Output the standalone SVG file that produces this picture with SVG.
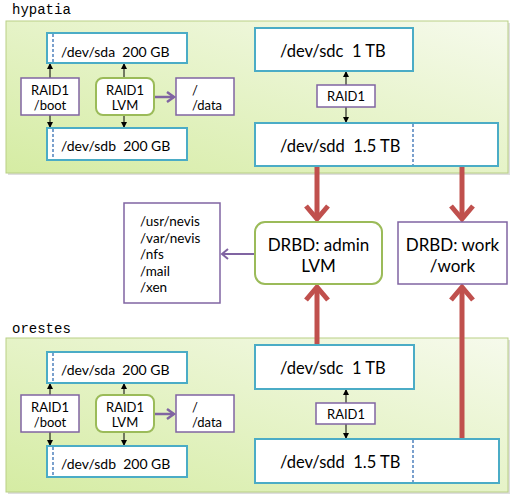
<svg xmlns="http://www.w3.org/2000/svg" width="514" height="501" viewBox="0 0 514 501">
<defs>
<linearGradient id="pg" x1="1" y1="0" x2="0" y2="1">
<stop offset="0" stop-color="#f6faec"/>
<stop offset="1" stop-color="#d5eca3"/>
</linearGradient>
<marker id="sm" markerWidth="6" markerHeight="6" refX="5" refY="3" orient="auto" markerUnits="userSpaceOnUse">
<path d="M0,0 L6,3 L0,6 z" fill="#000"/>
</marker>
<style>
.panel{fill:url(#pg);stroke:#b9cf86;stroke-width:1}
.shadow{fill:#bdbdbd;opacity:0.5}
.disk{fill:#fff;stroke:#4bacc6;stroke-width:2}
.dash{stroke:#4f81bd;stroke-width:1.5;stroke-dasharray:3,2;fill:none}
.pbox{fill:#fff;stroke:#8064a2;stroke-width:1.5}
.gbox{fill:#fff;stroke:#9bbb59;stroke-width:2}
.host{font-family:"Liberation Mono",monospace;font-size:14px;fill:#000}
.dt{font-family:Lato,"Liberation Sans",sans-serif;font-size:14px;fill:#000}
.dl{font-family:Lato,"Liberation Sans",sans-serif;font-size:16.5px;fill:#000}
.st{font-family:Lato,"Liberation Sans",sans-serif;font-size:13px;fill:#000}
.bt{font-family:Lato,"Liberation Sans",sans-serif;font-size:17px;fill:#000}
.lt{font-family:Lato,"Liberation Sans",sans-serif;font-size:13.5px;fill:#000}
.thin{stroke:#000;stroke-width:1;fill:none;marker-end:url(#sm)}
.red{stroke:#c0504d;stroke-width:5;fill:none}
.redh{stroke:#c0504d;stroke-width:5;fill:none;stroke-linejoin:miter;stroke-linecap:butt}
.pur{stroke:#8064a2;stroke-width:2.5;fill:none}
.c{text-anchor:middle}
</style>
</defs>
<rect width="514" height="501" fill="#fff"/>

<!-- panels -->
<g id="hypatia">
<text class="host" x="12" y="14">hypatia</text>
<rect class="shadow" x="8" y="23" width="502" height="152"/>
<rect class="panel" x="6" y="21" width="502" height="152"/>
</g>
<g id="orestes">
<text class="host" x="12" y="333">orestes</text>
<rect class="shadow" x="8" y="340" width="502" height="154"/>
<rect class="panel" x="6" y="338" width="502" height="154"/>
</g>

<!-- connectors -->
<g id="connectors">
<line class="thin" x1="50" y1="78" x2="50" y2="64"/>
<line class="thin" x1="50" y1="115" x2="50" y2="127"/>
<line class="thin" x1="124" y1="78" x2="124" y2="64"/>
<line class="thin" x1="124" y1="115" x2="124" y2="127"/>
<line class="thin" x1="346" y1="85" x2="346" y2="72"/>
<line class="thin" x1="346" y1="107" x2="346" y2="122"/>
<line class="pur" x1="155" y1="97" x2="174" y2="97"/>
<polyline class="pur" points="167,92 174,97 167,102"/>

<line class="thin" x1="50" y1="395" x2="50" y2="384"/>
<line class="thin" x1="50" y1="432" x2="50" y2="445"/>
<line class="thin" x1="124" y1="395" x2="124" y2="384"/>
<line class="thin" x1="124" y1="432" x2="124" y2="445"/>
<line class="thin" x1="346" y1="403" x2="346" y2="390"/>
<line class="thin" x1="346" y1="424" x2="346" y2="438"/>
<line class="pur" x1="155" y1="414" x2="174" y2="414"/>
<polyline class="pur" points="167,409 174,414 167,419"/>

<line class="red" x1="317" y1="166" x2="317" y2="219"/>
<polyline class="redh" points="306,206 317,219 328,206"/>
<line class="red" x1="462" y1="166" x2="462" y2="219"/>
<polyline class="redh" points="451,206 462,219 473,206"/>
<line class="red" x1="317" y1="345" x2="317" y2="287"/>
<polyline class="redh" points="306,300 317,287 328,300"/>
<line class="red" x1="462" y1="440" x2="462" y2="287"/>
<polyline class="redh" points="451,300 462,287 473,300"/>

<line stroke="#8064a2" stroke-width="2" x1="255" y1="254" x2="222" y2="254"/>
<polyline stroke="#8064a2" stroke-width="2" fill="none" points="228,249 222,254 228,259"/>
</g>

<!-- hypatia nodes -->
<g id="h-sda"><rect class="disk" x="47" y="33" width="140" height="30"/><line class="dash" x1="53" y1="34" x2="53" y2="62"/><text class="dt" x="61" y="57" xml:space="preserve">/dev/sda  200 GB</text></g>
<g id="h-sdb"><rect class="disk" x="47" y="128" width="140" height="32"/><line class="dash" x1="53" y1="129" x2="53" y2="159"/><text class="dt" x="61" y="151" xml:space="preserve">/dev/sdb  200 GB</text></g>
<g id="h-boot"><rect class="pbox" x="21" y="78" width="58" height="37"/><text class="st c" x="50" y="95">RAID1</text><text class="st c" x="50" y="110">/boot</text></g>
<g id="h-lvm"><rect class="gbox" x="96" y="78" width="58" height="37" rx="7"/><text class="st c" x="125" y="95">RAID1</text><text class="st c" x="125" y="110">LVM</text></g>
<g id="h-data"><rect class="pbox" x="176" y="78" width="58" height="37"/><text class="st" x="192" y="95">/</text><text class="st" x="192" y="110">/data</text></g>
<g id="h-sdc"><rect class="disk" x="255" y="28" width="158" height="43"/><text class="dl" x="280" y="57" xml:space="preserve">/dev/sdc  1 TB</text></g>
<g id="h-raid"><rect class="pbox" x="317" y="85" width="58" height="22"/><text class="st c" x="346" y="101">RAID1</text></g>
<g id="h-sdd"><rect class="disk" x="255" y="123" width="243" height="43"/><line class="dash" x1="413" y1="124" x2="413" y2="165"/><text class="dl" x="280" y="152" xml:space="preserve">/dev/sdd  1.5 TB</text></g>

<!-- middle nodes -->
<g id="mounts"><rect class="pbox" x="124" y="203" width="96" height="100"/>
<text class="lt" x="140" y="226">/usr/nevis</text>
<text class="lt" x="140" y="243">/var/nevis</text>
<text class="lt" x="140" y="259">/nfs</text>
<text class="lt" x="140" y="276">/mail</text>
<text class="lt" x="140" y="292">/xen</text></g>
<g id="drbd-admin"><rect class="gbox" x="255" y="222" width="127" height="62" rx="10"/><text class="bt c" x="318.5" y="251">DRBD: admin</text><text class="bt c" x="318.5" y="272">LVM</text></g>
<g id="drbd-work"><rect class="pbox" x="398" y="222" width="109" height="62"/><text class="bt c" x="452.5" y="251">DRBD: work</text><text class="bt c" x="452.5" y="272">/work</text></g>

<!-- orestes nodes -->
<g id="o-sda"><rect class="disk" x="47" y="352" width="140" height="31"/><line class="dash" x1="53" y1="353" x2="53" y2="382"/><text class="dt" x="61" y="375" xml:space="preserve">/dev/sda  200 GB</text></g>
<g id="o-sdb"><rect class="disk" x="47" y="446" width="140" height="31"/><line class="dash" x1="53" y1="447" x2="53" y2="476"/><text class="dt" x="61" y="469" xml:space="preserve">/dev/sdb  200 GB</text></g>
<g id="o-boot"><rect class="pbox" x="21" y="395" width="58" height="37"/><text class="st c" x="50" y="412">RAID1</text><text class="st c" x="50" y="427">/boot</text></g>
<g id="o-lvm"><rect class="gbox" x="96" y="395" width="58" height="37" rx="7"/><text class="st c" x="125" y="412">RAID1</text><text class="st c" x="125" y="427">LVM</text></g>
<g id="o-data"><rect class="pbox" x="176" y="395" width="58" height="37"/><text class="st" x="192" y="412">/</text><text class="st" x="192" y="427">/data</text></g>
<g id="o-sdc"><rect class="disk" x="255" y="345" width="159" height="44"/><text class="dl" x="280" y="374" xml:space="preserve">/dev/sdc  1 TB</text></g>
<g id="o-raid"><rect class="pbox" x="316" y="403" width="59" height="21"/><text class="st c" x="346" y="419">RAID1</text></g>
<g id="o-sdd"><rect class="disk" x="255" y="439" width="244" height="44"/><line class="dash" x1="413" y1="440" x2="413" y2="482"/><text class="dl" x="280" y="468" xml:space="preserve">/dev/sdd  1.5 TB</text></g>
</svg>
